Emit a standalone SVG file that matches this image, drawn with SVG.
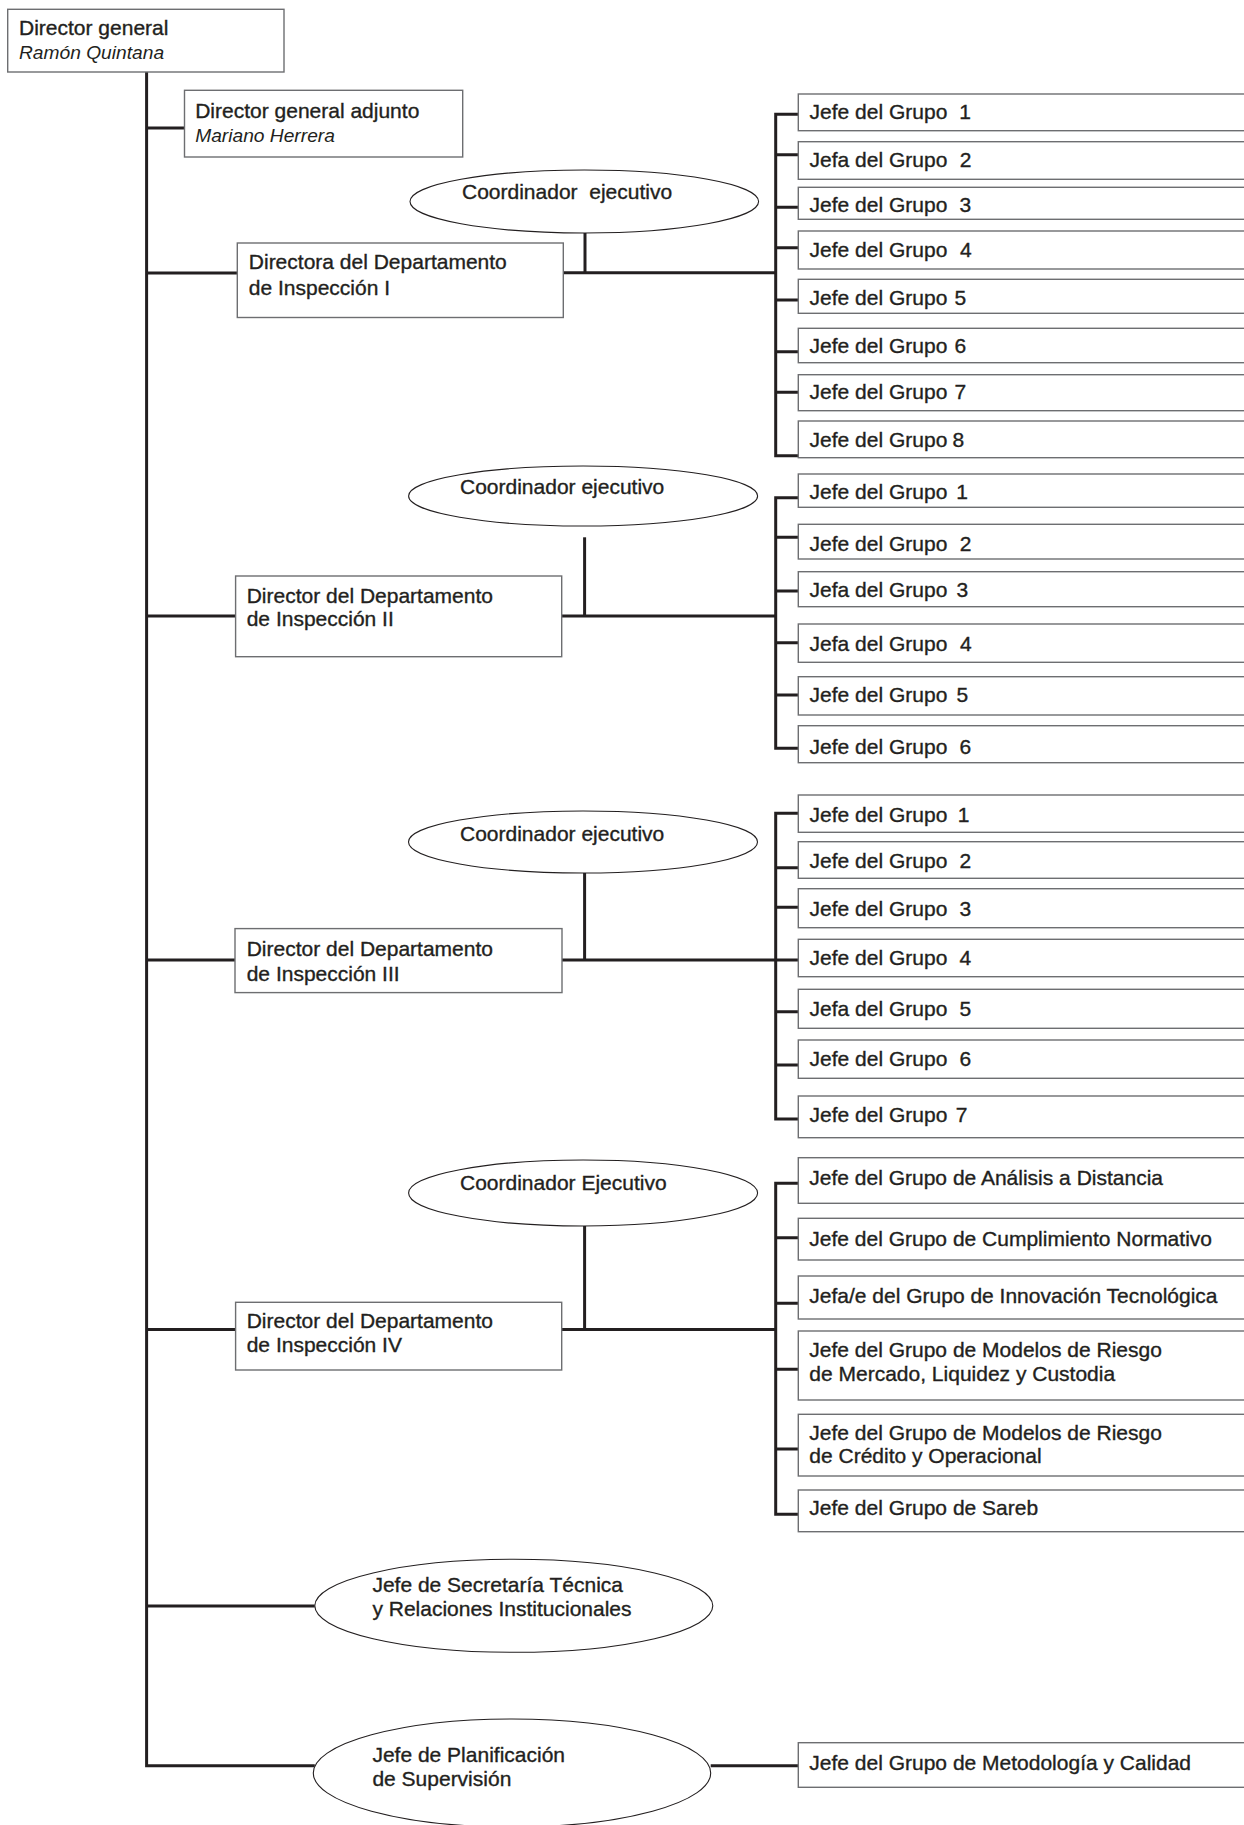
<svg xmlns="http://www.w3.org/2000/svg" width="1244" height="1825" viewBox="0 0 1244 1825">
<style>
.bg{fill:#ffffff}
.box{fill:#ffffff;stroke:#6d6e71;stroke-width:1.4}
.ell{fill:#ffffff;stroke:#231f20;stroke-width:1.1}
.c{fill:none;stroke:#231f20;stroke-width:3;stroke-linejoin:miter;stroke-linecap:butt}
.t{font-family:"Liberation Sans",Arial,Helvetica,sans-serif;font-size:21px;fill:#231f20;stroke:#231f20;stroke-width:0.35}
.i{font-style:italic;font-size:19.2px;stroke-width:0}
</style>
<rect class="bg" x="0" y="0" width="1244" height="1825"/>
<g id="connectors">
<path class="c" d="M146.6 72 V1765.7 H314.8"/>
<path class="c" d="M146.6 128 H184.5"/>
<!-- Section 1 -->
<path class="c" d="M146.6 273 H237.3"/>
<path class="c" d="M563.3 272.7 H777"/>
<path class="c" d="M585 233 V272.7"/>
<path class="c" d="M798.3 114.3 H775.7 V455.7 H798.3"/>
<path class="c" d="M775.7 154.7 H798.3 M775.7 207.3 H798.3 M775.7 247.7 H798.3 M775.7 300 H798.3 M775.7 351.7 H798.3 M775.7 392.3 H798.3"/>
<!-- Section 2 -->
<path class="c" d="M146.6 616 H235.6"/>
<path class="c" d="M561.7 616 H777"/>
<path class="c" d="M584.6 537.3 V616"/>
<path class="c" d="M798.3 497.7 H775.7 V748.3 H798.3"/>
<path class="c" d="M775.7 537.3 H798.3 M775.7 591 H798.3 M775.7 642.7 H798.3 M775.7 695 H798.3"/>
<!-- Section 3 -->
<path class="c" d="M146.6 960 H235"/>
<path class="c" d="M562 960 H798.3"/>
<path class="c" d="M584.6 873 V960"/>
<path class="c" d="M798.3 813.3 H775.7 V1119 H798.3"/>
<path class="c" d="M775.7 867.7 H798.3 M775.7 907.3 H798.3 M775.7 1011.7 H798.3 M775.7 1065 H798.3"/>
<!-- Section 4 -->
<path class="c" d="M146.6 1329.5 H235.6"/>
<path class="c" d="M561.7 1329.5 H777"/>
<path class="c" d="M584.6 1226 V1329.5"/>
<path class="c" d="M798.3 1183.3 H775.7 V1514.3 H798.3"/>
<path class="c" d="M775.7 1237.7 H798.3 M775.7 1303.3 H798.3 M775.7 1369.3 H798.3 M775.7 1449 H798.3"/>
<!-- Bottom -->
<path class="c" d="M146.6 1606 H314.8"/>
<path class="c" d="M710.7 1765.7 H798.3"/>
</g>

<g id="director-general"><rect class="box" x="7.7" y="9.3" width="276.3" height="62.7"/>
<text class="t" x="19" y="35">Director general</text><text class="t i" x="19" y="59.3">Ramón Quintana</text></g>
<g id="director-general-adjunto"><rect class="box" x="184.5" y="90.3" width="278.2" height="66.7"/>
<text class="t" x="195.2" y="118.3">Director general adjunto</text><text class="t i" x="195.2" y="141.7">Mariano Herrera</text></g>

<g id="coord-1"><ellipse class="ell" cx="584.3" cy="201.5" rx="174.3" ry="31.5"/><text class="t" x="462" y="199">Coordinador&#160; ejecutivo</text></g>
<g id="dir-insp-1"><rect class="box" x="237.3" y="243" width="326" height="74.5"/>
<text class="t" x="248.8" y="269">Directora del Departamento</text><text class="t" x="248.8" y="295">de Inspección I</text></g>

<g id="s1-g1"><rect class="box" x="798.3" y="94" width="460" height="36.7"/><text class="t" x="809.6" y="119">Jefe del Grupo <tspan x="959.3">1</tspan></text></g>
<g id="s1-g2"><rect class="box" x="798.3" y="141.7" width="460" height="37.6"/><text class="t" x="809.6" y="167">Jefa del Grupo <tspan x="959.8">2</tspan></text></g>
<g id="s1-g3"><rect class="box" x="798.3" y="187.3" width="460" height="32"/><text class="t" x="809.6" y="211.7">Jefe del Grupo <tspan x="959.6">3</tspan></text></g>
<g id="s1-g4"><rect class="box" x="798.3" y="231" width="460" height="38"/><text class="t" x="809.6" y="256.7">Jefe del Grupo <tspan x="960">4</tspan></text></g>
<g id="s1-g5"><rect class="box" x="798.3" y="279.3" width="460" height="34"/><text class="t" x="809.6" y="305">Jefe del Grupo <tspan x="954.5">5</tspan></text></g>
<g id="s1-g6"><rect class="box" x="798.3" y="328.3" width="460" height="34.4"/><text class="t" x="809.6" y="352.7">Jefe del Grupo <tspan x="954.5">6</tspan></text></g>
<g id="s1-g7"><rect class="box" x="798.3" y="374.7" width="460" height="36"/><text class="t" x="809.6" y="399.3">Jefe del Grupo <tspan x="954.5">7</tspan></text></g>
<g id="s1-g8"><rect class="box" x="798.3" y="421" width="460" height="36.7"/><text class="t" x="809.6" y="446.7">Jefe del Grupo <tspan x="952.5">8</tspan></text></g>

<g id="coord-2"><ellipse class="ell" cx="583.1" cy="496" rx="174.5" ry="30"/><text class="t" x="460" y="494">Coordinador ejecutivo</text></g>
<g id="dir-insp-2"><rect class="box" x="235.6" y="576" width="326.1" height="80.7"/>
<text class="t" x="246.7" y="602.7">Director del Departamento</text><text class="t" x="246.7" y="626">de Inspección II</text></g>

<g id="s2-g1"><rect class="box" x="798.3" y="474" width="460" height="33.3"/><text class="t" x="809.6" y="499.3">Jefe del Grupo <tspan x="956.3">1</tspan></text></g>
<g id="s2-g2"><rect class="box" x="798.3" y="524.3" width="460" height="34.7"/><text class="t" x="809.6" y="550.7">Jefe del Grupo <tspan x="959.8">2</tspan></text></g>
<g id="s2-g3"><rect class="box" x="798.3" y="571.7" width="460" height="35"/><text class="t" x="809.6" y="597.3">Jefa del Grupo <tspan x="956.6">3</tspan></text></g>
<g id="s2-g4"><rect class="box" x="798.3" y="624" width="460" height="38.3"/><text class="t" x="809.6" y="650.7">Jefa del Grupo <tspan x="960">4</tspan></text></g>
<g id="s2-g5"><rect class="box" x="798.3" y="676.7" width="460" height="38.3"/><text class="t" x="809.6" y="701.7">Jefe del Grupo <tspan x="956.5">5</tspan></text></g>
<g id="s2-g6"><rect class="box" x="798.3" y="725.7" width="460" height="37"/><text class="t" x="809.6" y="754">Jefe del Grupo <tspan x="959.5">6</tspan></text></g>

<g id="coord-3"><ellipse class="ell" cx="583" cy="842" rx="174.5" ry="31"/><text class="t" x="460" y="841">Coordinador ejecutivo</text></g>
<g id="dir-insp-3"><rect class="box" x="235" y="928.6" width="327" height="64"/>
<text class="t" x="246.7" y="956">Director del Departamento</text><text class="t" x="246.7" y="980.5">de Inspección III</text></g>

<g id="s3-g1"><rect class="box" x="798.3" y="795" width="460" height="37.3"/><text class="t" x="809.6" y="821.7">Jefe del Grupo <tspan x="957.8">1</tspan></text></g>
<g id="s3-g2"><rect class="box" x="798.3" y="841.7" width="460" height="36.6"/><text class="t" x="809.6" y="868.3">Jefe del Grupo <tspan x="959.5">2</tspan></text></g>
<g id="s3-g3"><rect class="box" x="798.3" y="888.7" width="460" height="39"/><text class="t" x="809.6" y="915.7">Jefe del Grupo <tspan x="959.5">3</tspan></text></g>
<g id="s3-g4"><rect class="box" x="798.3" y="939.3" width="460" height="37.4"/><text class="t" x="809.6" y="965">Jefe del Grupo <tspan x="959.5">4</tspan></text></g>
<g id="s3-g5"><rect class="box" x="798.3" y="989.3" width="460" height="39"/><text class="t" x="809.6" y="1015.7">Jefa del Grupo <tspan x="959.5">5</tspan></text></g>
<g id="s3-g6"><rect class="box" x="798.3" y="1040" width="460" height="38.3"/><text class="t" x="809.6" y="1066">Jefe del Grupo <tspan x="959.5">6</tspan></text></g>
<g id="s3-g7"><rect class="box" x="798.3" y="1096" width="460" height="41.7"/><text class="t" x="809.6" y="1122.3">Jefe del Grupo <tspan x="955.7">7</tspan></text></g>

<g id="coord-4"><ellipse class="ell" cx="583.1" cy="1193" rx="174.5" ry="33"/><text class="t" x="460" y="1190">Coordinador Ejecutivo</text></g>
<g id="dir-insp-4"><rect class="box" x="235.6" y="1302.3" width="326.1" height="67.7"/>
<text class="t" x="246.7" y="1328.3">Director del Departamento</text><text class="t" x="246.7" y="1351.7">de Inspección IV</text></g>

<g id="s4-g1"><rect class="box" x="798.3" y="1157.7" width="460" height="45.6"/><text class="t" x="809.3" y="1185">Jefe del Grupo de Análisis a Distancia</text></g>
<g id="s4-g2"><rect class="box" x="798.3" y="1218.3" width="460" height="41.7"/><text class="t" x="809.3" y="1245.7">Jefe del Grupo de Cumplimiento Normativo</text></g>
<g id="s4-g3"><rect class="box" x="798.3" y="1276" width="460" height="43"/><text class="t" x="809.3" y="1303.3">Jefa/e del Grupo de Innovación Tecnológica</text></g>
<g id="s4-g4"><rect class="box" x="798.3" y="1331" width="460" height="69"/><text class="t" x="809.3" y="1357.3">Jefe del Grupo de Modelos de Riesgo</text><text class="t" x="809.3" y="1381">de Mercado, Liquidez y Custodia</text></g>
<g id="s4-g5"><rect class="box" x="798.3" y="1414.3" width="460" height="61.7"/><text class="t" x="809.3" y="1440">Jefe del Grupo de Modelos de Riesgo</text><text class="t" x="809.3" y="1463.3">de Crédito y Operacional</text></g>
<g id="s4-g6"><rect class="box" x="798.3" y="1490" width="460" height="41.7"/><text class="t" x="809.3" y="1515">Jefe del Grupo de Sareb</text></g>

<g id="secretaria"><ellipse class="ell" cx="513.8" cy="1605.8" rx="199" ry="46.5"/>
<text class="t" x="372.4" y="1591.7">Jefe de Secretaría Técnica</text><text class="t" x="372.4" y="1615.7">y Relaciones Institucionales</text></g>
<g id="planificacion"><ellipse class="ell" cx="512" cy="1773" rx="198.7" ry="54"/>
<text class="t" x="372.4" y="1761.7">Jefe de Planificación</text><text class="t" x="372.4" y="1785.7">de Supervisión</text></g>
<g id="metodologia"><rect class="box" x="798.3" y="1742.7" width="460" height="44.6"/><text class="t" x="809.3" y="1770">Jefe del Grupo de Metodología y Calidad</text></g>
</svg>
